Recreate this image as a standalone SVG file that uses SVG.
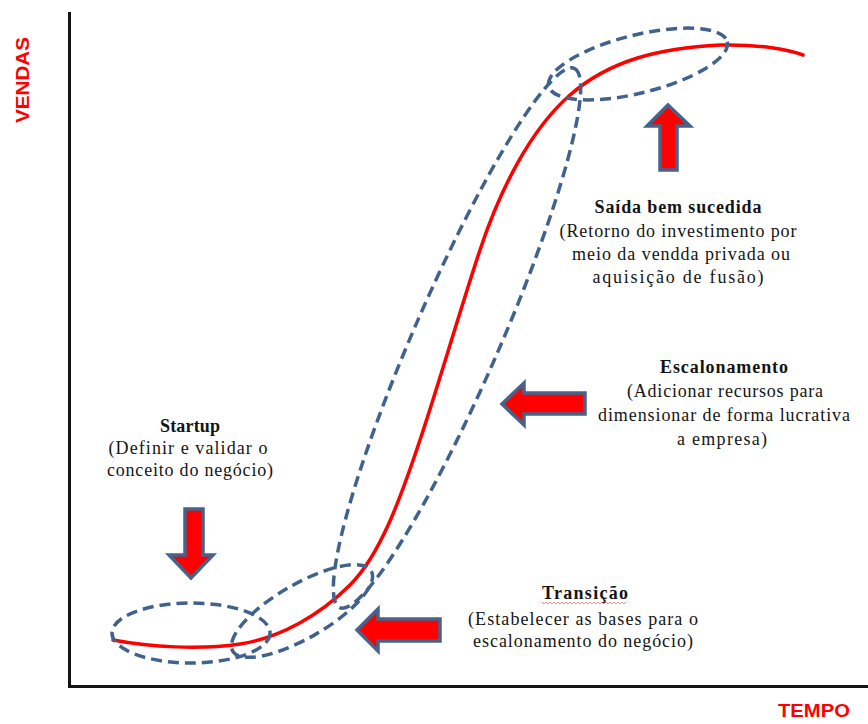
<svg xmlns="http://www.w3.org/2000/svg" width="868" height="724" viewBox="0 0 868 724">
  <style>
    .axis { stroke: #141414; stroke-width: 3; fill: none; }
    .axis-label { font-family: "Liberation Sans", Arial, sans-serif; font-weight: bold; font-size: 19px; fill: #ff0000; }
    .curve { stroke: #ff0000; stroke-width: 3.5; fill: none; stroke-linecap: round; }
    .phase { stroke: #41628c; stroke-width: 3.5; fill: none; stroke-dasharray: 11 6; }
    .arrow { fill: #ff0000; stroke: #46638b; stroke-width: 3.5; stroke-linejoin: miter; }
    .lbl { font-family: "Liberation Serif", "Times New Roman", serif; font-size: 18px; fill: #141414; text-anchor: middle; }
    .lbl-title { font-weight: bold; }
    .squiggle { stroke: #ff4040; stroke-width: 1; fill: none; opacity: 0.6; }
  </style>

  <!-- axes -->
  <g id="axes">
    <line class="axis" x1="69.5" y1="12" x2="69.5" y2="687"/>
    <line class="axis" x1="68" y1="686.5" x2="868" y2="686.5"/>
    <text class="axis-label" transform="translate(29,123) rotate(-90)" textLength="86" lengthAdjust="spacingAndGlyphs">VENDAS</text>
    <text class="axis-label" x="778" y="717" textLength="72" lengthAdjust="spacingAndGlyphs">TEMPO</text>
  </g>

  <!-- sales curve -->
  <g id="sales-curve">
    <path class="curve" d="M113,640 C150,647 200,650 240,644 C280,638 320,615 350,585 C380,555 400,500 420,440 C440,380 460,310 480,250 C500,190 530,130 570,95 C610,60 660,48 720,45 C760,44 790,50 803,55"/>
  </g>

  <!-- phase outlines along the curve -->
  <g id="phases">
    <ellipse id="phase-startup" class="phase" cx="191" cy="633" rx="79" ry="30"/>
    <ellipse id="phase-transicao" class="phase" cx="302" cy="611" rx="80" ry="27" transform="rotate(-30 302 611)"/>
    <ellipse id="phase-escalonamento" class="phase" cx="457" cy="338" rx="294" ry="43" transform="rotate(-66.5 457 338)"/>
    <ellipse id="phase-saida" class="phase" cx="638" cy="64" rx="92" ry="29" transform="rotate(-14 638 64)"/>
  </g>

  <!-- block arrows pointing at each phase -->
  <g id="arrows">
    <path id="arrow-startup" class="arrow" d="M185,509 L203,509 L203,555 L213,555 L191,578 L169,555 L185,555 Z"/>
    <path id="arrow-saida" class="arrow" d="M668,105 L690,126 L677,126 L677,170 L660,170 L660,126 L647,126 Z"/>
    <path id="arrow-escalonamento" class="arrow" d="M502,404 L524,383 L524,393 L585,393 L585,414 L524,414 L524,425 Z"/>
    <path id="arrow-transicao" class="arrow" d="M357,630 L378,609 L378,619 L440,619 L440,641 L378,641 L378,651 Z"/>
  </g>

  <!-- labels -->
  <g id="label-startup">
    <text class="lbl lbl-title" x="190" y="432" textLength="60" lengthAdjust="spacing">Startup</text>
    <text class="lbl" x="188" y="454" textLength="159" lengthAdjust="spacing">(Definir e validar o</text>
    <text class="lbl" x="190" y="476" textLength="166" lengthAdjust="spacing">conceito do negócio)</text>
  </g>

  <g id="label-saida">
    <text class="lbl lbl-title" x="678" y="213" textLength="167" lengthAdjust="spacing">Saída bem sucedida</text>
    <text class="lbl" x="678" y="237" textLength="237" lengthAdjust="spacing">(Retorno do investimento por</text>
    <text class="lbl" x="681" y="260" textLength="218" lengthAdjust="spacing">meio da vendda privada ou</text>
    <text class="lbl" x="678" y="283" textLength="171" lengthAdjust="spacing">aquisição de fusão)</text>
  </g>

  <g id="label-escalonamento">
    <text class="lbl lbl-title" x="724" y="373" textLength="128" lengthAdjust="spacing">Escalonamento</text>
    <text class="lbl" x="725" y="397" textLength="196" lengthAdjust="spacing">(Adicionar recursos para</text>
    <text class="lbl" x="724" y="421" textLength="252" lengthAdjust="spacing">dimensionar de forma lucrativa</text>
    <text class="lbl" x="722" y="445" textLength="90" lengthAdjust="spacing">a empresa)</text>
  </g>

  <g id="label-transicao">
    <text class="lbl lbl-title" x="585" y="599" textLength="86" lengthAdjust="spacing">Transição</text>
    <path class="squiggle" d="M542,602 l2,2 l2,-2 l2,2 l2,-2 l2,2 l2,-2 l2,2 l2,-2 l2,2 l2,-2 l2,2 l2,-2 l2,2 l2,-2 l2,2 l2,-2 l2,2 l2,-2 l2,2 l2,-2 l2,2 l2,-2 l2,2 l2,-2 l2,2 l2,-2 l2,2 l2,-2 l2,2 l2,-2 l2,2 l2,-2 l2,2 l2,-2 l2,2 l2,-2 l2,2 l2,-2 l2,2 l2,-2 l2,2 l2,-2"/>
    <text class="lbl" x="583" y="625" textLength="230" lengthAdjust="spacing">(Estabelecer as bases para o</text>
    <text class="lbl" x="583" y="647" textLength="220" lengthAdjust="spacing">escalonamento do negócio)</text>
  </g>
</svg>
